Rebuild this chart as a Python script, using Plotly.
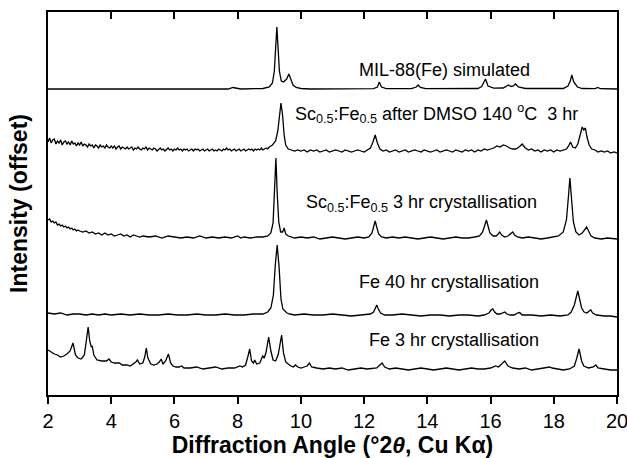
import plotly.graph_objects as go

# ---- data (2theta, intensity above each pattern's own baseline) ----
sim_x = [2.0, 7.7, 7.85, 7.95, 8.1, 8.8, 9.0, 9.1, 9.16, 9.2, 9.24, 9.28, 9.32, 9.38, 9.45, 9.55, 9.62, 9.68,
         9.75, 9.85, 10.0, 10.3, 12.3, 12.42, 12.48, 12.55, 12.7, 13.5, 13.65, 13.71, 13.78, 13.95, 15.6, 15.72,
         15.84, 15.92, 16.1, 16.4, 16.52, 16.57, 16.65, 16.72, 16.79, 16.88, 17.1, 18.3, 18.45, 18.52, 18.57,
         18.63, 18.75, 18.9, 19.3, 19.4, 19.47, 20.0]
sim_y = [0, 0, 1.5, 1, 0, 0.5, 2, 6, 18, 40, 62, 40, 18, 8, 7, 10, 15, 10,
         4, 1.5, 0.5, 0, 0.3, 2, 7, 2, 0.3, 0.3, 2, 4, 1.5, 0.3, 0.5, 2.5,
         10, 3, 0.8, 1, 3, 4, 2.5, 3, 5, 2, 0.5, 0.5, 3, 8, 14,
         7, 2, 0.5, 0.3, 1.5, 0.3, 0]

# noisy low-angle part of the DMSO-treated pattern, read as (2theta, intensity)
dmso_low = [(2.00, 9), (2.05, 13), (2.10, 8), (2.15, 11), (2.20, 12), (2.25, 7), (2.30, 10), (2.35, 8),
            (2.40, 11), (2.45, 6), (2.50, 9), (2.55, 10), (2.60, 7), (2.65, 9), (2.70, 6), (2.75, 10),
            (2.80, 7), (2.85, 8), (2.90, 5), (2.95, 8), (3.00, 6), (3.05, 9), (3.10, 5), (3.15, 7),
            (3.20, 6), (3.25, 4), (3.30, 7), (3.35, 5), (3.40, 6), (3.45, 3), (3.50, 6), (3.55, 5),
            (3.60, 3), (3.65, 6), (3.70, 4), (3.75, 5), (3.80, 3), (3.85, 6), (3.90, 4), (3.95, 3),
            (4.00, 5), (4.05, 3), (4.10, 5), (4.15, 2), (4.20, 4), (4.25, 5), (4.30, 2), (4.35, 4),
            (4.40, 3), (4.45, 2), (4.50, 4), (4.55, 2), (4.60, 3), (4.65, 4), (4.70, 1), (4.75, 3),
            (4.80, 2), (4.85, 4), (4.90, 2), (4.95, 1), (5.00, 3), (5.05, 2), (5.10, 4), (5.15, 1),
            (5.20, 3), (5.25, 2), (5.30, 1), (5.35, 3), (5.40, 2), (5.45, 0), (5.50, 2), (5.55, 3),
            (5.60, 1), (5.65, 2), (5.70, 0), (5.75, 2), (5.80, 3), (5.85, 1), (5.90, 2), (5.95, 0),
            (6.00, 2), (6.05, 1), (6.10, 3), (6.15, 1), (6.20, 2), (6.25, 0), (6.30, 2), (6.35, 1),
            (6.40, 2), (6.45, 0), (6.50, 1), (6.55, 2), (6.60, 0), (6.65, 2), (6.70, 1), (6.75, 2),
            (6.80, 0), (6.85, 1), (6.90, 2), (6.95, 0), (7.00, 1), (7.05, 2), (7.10, 0), (7.15, 1),
            (7.20, 2), (7.25, 0), (7.30, 1), (7.35, 0), (7.40, 2), (7.45, 1), (7.50, 0), (7.55, 2),
            (7.60, 1), (7.65, 3), (7.70, 1), (7.75, 2), (7.80, 0), (7.85, 1), (7.90, 2), (7.95, 0),
            (8.00, 1), (8.05, 2), (8.10, 0), (8.15, 1), (8.20, 2), (8.25, 0), (8.30, 1), (8.35, 2),
            (8.40, 1), (8.45, 2), (8.50, 0), (8.55, 2), (8.60, 1), (8.65, 2), (8.70, 1), (8.75, 3),
            (8.80, 1), (8.85, 2), (8.90, 3), (8.95, 2), (9.00, 4)]
dmso_high_x = [9.1, 9.2, 9.27, 9.32, 9.37, 9.42, 9.47, 9.52,
               9.6, 9.7, 9.8, 9.9, 10.0, 10.1, 10.2, 10.3, 10.4, 10.5, 10.6, 10.7, 10.8, 10.9, 11.0, 11.1, 11.2,
               11.3, 11.4, 11.5, 11.6, 11.7, 11.8, 11.9, 12.0, 12.1, 12.2, 12.28, 12.35, 12.42, 12.5, 12.6, 12.7,
               12.8, 12.9, 13.0, 13.1, 13.2, 13.3, 13.4, 13.5, 13.6, 13.7, 13.8, 13.9, 14.0, 14.1, 14.2, 14.3,
               14.4, 14.5, 14.6, 14.7, 14.8, 14.9, 15.0, 15.1, 15.2, 15.3, 15.4, 15.5, 15.6, 15.7, 15.8, 15.9,
               16.0, 16.1, 16.2, 16.3, 16.4, 16.5, 16.6, 16.7, 16.8, 16.9, 17.0, 17.1, 17.2, 17.3, 17.4, 17.5,
               17.6, 17.7, 17.8, 17.9, 18.0, 18.1, 18.2, 18.3, 18.4, 18.47, 18.53, 18.6, 18.68, 18.76, 18.84,
               18.9, 18.95, 19.0, 19.05, 19.12, 19.2, 19.3, 19.4, 19.5, 19.6, 19.7, 19.8, 19.9, 20.0]
dmso_high_y = [6, 10, 20, 38, 48, 36, 16, 6,
               2, 1, 0, 1, 0, 1, -1, 1, 0, 1, -1, 0, 1, -1, 0, 1, 0,
               -1, 1, 0, -1, 0, 1, 0, -1, 1, 3, 9, 16, 8, 2, 0, 1,
               -1, 0, 1, -1, 0, 1, -1, 0, 1, 0, -1, 1, 0, -1, 0, 1,
               -1, 0, 1, 0, -1, 1, 0, -1, 1, 0, 1, -1, 1, 0, 2, 1,
               2, 3, 5, 4, 6, 5, 3, 2, 2, 4, 7, 3, 1, 2, 0, 1,
               -1, 1, 0, 1, -1, 1, 0, 1, 2, 5, 9, 4, 3, 7, 16,
               24, 21, 23, 14, 6, 2, 1, -1, 0, -1, 0, -2, -1, -2]
dmso_x = [p[0] for p in dmso_low] + dmso_high_x
dmso_y = [p[1] for p in dmso_low] + dmso_high_y

sc_x = [2.0, 2.05, 2.1, 2.15, 2.2, 2.25, 2.3, 2.35, 2.4, 2.45, 2.5, 2.55, 2.6, 2.65, 2.7, 2.75, 2.8, 2.85,
        2.9, 2.95, 3.0, 3.1, 3.2, 3.3, 3.4, 3.5, 3.6,
        3.7, 3.8, 3.9, 4.0, 4.1, 4.2, 4.3, 4.4, 4.5, 4.6, 4.7, 4.8, 4.9, 5.0, 5.2, 5.4, 5.6, 5.8, 6.0, 6.2,
        6.4, 6.6, 6.8, 7.0, 7.2,
        7.4, 7.6, 7.8, 8.0, 8.1, 8.2, 8.4, 8.6, 8.8, 8.95, 9.05, 9.12, 9.17, 9.21, 9.25, 9.3, 9.36, 9.42,
        9.47, 9.52, 9.6, 9.7, 9.8, 10.0, 10.2, 10.4, 10.6, 10.8, 11.0, 11.2, 11.4, 11.6, 11.8, 12.0, 12.15,
        12.25, 12.31, 12.35, 12.4, 12.46, 12.55, 12.7, 12.9, 13.1, 13.3, 13.5, 13.7, 13.9, 14.1, 14.3, 14.5,
        14.7, 14.9, 15.1, 15.3, 15.5, 15.65, 15.75, 15.82, 15.87, 15.92, 15.98, 16.08, 16.18, 16.24, 16.29,
        16.35, 16.45, 16.55, 16.63, 16.7, 16.76, 16.85, 17.0, 17.2, 17.4, 17.6, 17.8, 18.0, 18.15, 18.3,
        18.4, 18.46, 18.51, 18.56, 18.62, 18.7, 18.8, 18.9, 18.98, 19.04, 19.1, 19.18, 19.3, 19.5, 19.7,
        19.9, 20.0]
sc_y = [18, 19, 16, 17, 15, 16, 13, 14, 12, 13, 11, 12, 10, 11, 9, 10, 8, 9,
        7, 8, 7, 6, 7, 5, 6, 4, 5,
        3, 5, 3, 4, 2, 3, 4, 2, 3, 1, 3, 2, 1, 2, 1, 2, 0, 2, 1, 0,
        1, 0, 2, 0, 1,
        0, 1, 0, 2, 0, 1, 0, 1, 1, 2, 5, 15, 45, 80, 45, 16, 6, 6,
        10, 4, 2, 1, 0, 1, 0, 1, -1, 0, 1, 0, -1, 0, 1, 0, 1,
        5, 12, 17, 11, 4, 1, 0, 1, 0, 1, 0, -1, 0, 1, 0, -1,
        0, 1, 0, 0, 1, 2, 6, 13, 18, 12, 5, 2, 2, 4, 6,
        3, 1, 2, 4, 6, 3, 1, 0, 1, 0, -1, 0, 1, 2, 6,
        18, 40, 60, 40, 16, 6, 3, 5, 9, 11, 7, 2, 0, -1, 0,
        -1, -1]

fe40_x = [2.0, 2.2, 2.4, 2.6, 2.8, 3.0, 3.2, 3.4, 3.6, 3.8, 4.0, 4.3, 4.6, 4.9, 5.2, 5.5, 5.8, 6.1, 6.4,
          6.7, 7.0, 7.3, 7.6, 7.9, 8.2, 8.5, 8.8, 8.95, 9.05, 9.13, 9.19, 9.25, 9.31, 9.37, 9.43, 9.5, 9.56,
          9.65, 9.8, 10.1, 10.4, 10.7, 11.0, 11.3, 11.6, 11.9, 12.2, 12.3, 12.36, 12.4, 12.45, 12.52, 12.65,
          12.9, 13.2, 13.5, 13.8, 14.1, 14.4, 14.7, 15.0, 15.3, 15.6, 15.8, 15.95, 16.02, 16.07, 16.13, 16.2,
          16.3, 16.4, 16.45, 16.52, 16.62, 16.75, 16.85, 16.92, 17.0, 17.3, 17.6, 17.9, 18.2, 18.45, 18.55,
          18.65, 18.71, 18.76, 18.81, 18.88, 18.96, 19.05, 19.12, 19.17, 19.23, 19.35, 19.6, 19.8, 20.0]
fe40_y = [2, 1, 2, 0, 1, 1, 0, 1, 0, 1, 0, 1, 0, 1, 0, 0, 1, 0, 0,
          1, 0, 0, 1, 0, 0, 1, 1, 3, 7, 20, 50, 70, 48, 16, 6, 4, 2,
          1, 0, 1, 0, 0, 1, 0, -1, 0, 1, 3, 7, 10, 6, 2, 0,
          0, 1, 0, -1, 0, 0, -1, 0, 0, -1, 0, 2, 5, 6, 3, 1,
          1, 2, 3, 1, 0, 0, 2, 2.5, 0, 0, -1, 0, -1, 0, 3,
          10, 19, 24, 17, 7, 3, 2, 4, 5, 2, 0, -1, -1, -2]

fe3_x = [2.0, 2.1, 2.2, 2.3, 2.4, 2.5, 2.6, 2.7, 2.79, 2.87, 2.95, 3.05, 3.15, 3.22, 3.27, 3.32, 3.37, 3.4,
         3.45, 3.55, 3.7, 3.85, 3.93, 4.0, 4.1, 4.2, 4.26, 4.35, 4.5, 4.6, 4.7, 4.78, 4.83, 4.9, 5.0, 5.06,
         5.11, 5.16, 5.25, 5.35, 5.45, 5.52, 5.58, 5.64, 5.72, 5.81, 5.88, 5.95, 6.05, 6.15, 6.23, 6.3, 6.5,
         6.7, 6.9, 7.1, 7.3, 7.5, 7.7, 7.9, 8.0, 8.07, 8.15, 8.25, 8.32, 8.38, 8.44, 8.5, 8.54, 8.6, 8.7,
         8.79, 8.84, 8.9, 8.98, 9.05, 9.12, 9.2, 9.28, 9.34, 9.39, 9.45, 9.52, 9.6, 9.68, 9.76, 9.83, 9.9,
         10.0, 10.1, 10.2, 10.27, 10.34, 10.5, 10.7, 10.9, 11.1, 11.3, 11.5, 11.7, 11.9, 12.1, 12.3, 12.4,
         12.5, 12.57, 12.65, 12.8, 13.0, 13.2, 13.4, 13.6, 13.8, 14.0, 14.2, 14.4, 14.6, 14.8, 15.0, 15.2,
         15.4, 15.6, 15.8, 16.0, 16.1, 16.16, 16.25, 16.35, 16.45, 16.55, 16.7, 16.9, 17.1, 17.3, 17.5,
         17.7, 17.8, 17.87, 17.95, 18.1, 18.3, 18.5, 18.65, 18.72, 18.8, 18.88, 18.95, 19.1, 19.25, 19.33,
         19.4, 19.6, 19.8, 20.0]
fe3_y = [19, 17, 15, 14, 12, 13, 15, 18, 26, 14, 11, 10, 14, 30, 42, 28, 22, 23,
         14, 9, 8, 8, 10, 7, 6, 6, 6, 4, 4, 3, 5, 7, 9, 5, 6, 12,
         21, 11, 5, 4, 5, 7, 10, 5, 8, 15, 6, 3, 2, 2, 3, 1, 1,
         2, 0, 1, 2, 0, 1, 1, 2, 3, 2, 4, 12, 20, 8, 6, 9, 5, 6,
         13, 11, 17, 32, 18, 9, 8, 14, 26, 34, 16, 7, 5, 3, 2, 4, 2,
         1, 2, 3, 6, 2, 1, 0, 1, 0, 1, -1, 0, 1, 0, 1, 1,
         4, 6, 2, 0, 1, 0, -1, 0, 1, 0, -1, 0, 1, 0, -1, 0,
         1, 0, 0, 1, 2, 3, 2, 5, 8, 3, 1, 0, 1, -1, 0,
         1, 1, 2, 1, 0, -1, 0, 3, 10, 20, 8, 3, 1, 2, 4,
         1, 0, -1, -1]

offsets = [306, 244, 157, 80, 26]
series_x = [sim_x, dmso_x, sc_x, fe40_x, fe3_x]
series_y = [sim_y, dmso_y, sc_y, fe40_y, fe3_y]

labels = ["MIL-88(Fe) simulated",
          "Sc<sub>0.5</sub>:Fe<sub>0.5</sub> after DMSO 140 <sup>o</sup>C\u00a0 3 hr",
          "Sc<sub>0.5</sub>:Fe<sub>0.5</sub> 3 hr crystallisation",
          "Fe 40 hr crystallisation",
          "Fe 3 hr crystallisation"]
label_x = [14.54, 14.29, 13.8, 14.7, 14.83]
label_y = [325, 282, 192, 113, 55]

tick_vals = [2, 4, 6, 8, 10, 12, 14, 16, 18, 20]
top_tick_vals = [4, 6, 8, 10, 12, 14, 16, 18]

FONT = "Arial, Liberation Sans, Helvetica, sans-serif"

fig = go.Figure()
for xs, ys, off in zip(series_x, series_y, offsets):
    fig.add_trace(go.Scatter(x=xs, y=[v + off for v in ys], mode="lines",
                             line=dict(color="black", width=1.3), showlegend=False,
                             hoverinfo="skip"))

for txt, lx, ly in zip(labels, label_x, label_y):
    fig.add_annotation(x=lx, y=ly, text=txt, showarrow=False, xanchor="center", yanchor="middle",
                       font=dict(family=FONT, size=18, color="black"))

fig.update_layout(
    width=627, height=458,
    margin=dict(l=48, r=10, t=12, b=63),
    paper_bgcolor="white", plot_bgcolor="white",
    font=dict(family=FONT, color="black"),
    xaxis=dict(range=[2, 20], tickmode="array", tickvals=tick_vals,
               ticktext=[str(v) for v in tick_vals], automargin=False,
               ticklabeloverflow="allow",
               ticks="outside", ticklen=7, tickwidth=1.5, tickcolor="black",
               showline=True, linecolor="black", linewidth=1.5, mirror=True,
               showgrid=False, zeroline=False,
               tickfont=dict(family=FONT, size=20, color="black"),
               title=dict(text="<b>Diffraction Angle (°2<i>θ</i>, Cu Kα)</b>",
                          font=dict(family=FONT, size=23, color="black"), standoff=11)),
    xaxis2=dict(range=[2, 20], overlaying="x", side="top", anchor="y", automargin=False,
                tickmode="array", tickvals=top_tick_vals, ticks="inside", ticklen=7,
                tickwidth=1.5, tickcolor="black", showticklabels=False,
                showline=False, showgrid=False, zeroline=False),
    yaxis=dict(range=[0, 383], showticklabels=False, ticks="", automargin=False,
               showline=True, linecolor="black", linewidth=1.5, mirror=True,
               showgrid=False, zeroline=False,
               title=dict(text="<b>Intensity (offset)</b>",
                          font=dict(family=FONT, size=23, color="black"), standoff=12)),
)
# invisible trace so the top axis is drawn
fig.add_trace(go.Scatter(x=[2, 20], y=[None, None], xaxis="x2", yaxis="y", mode="lines",
                         showlegend=False, hoverinfo="skip"))

fig.write_html("out.html")
